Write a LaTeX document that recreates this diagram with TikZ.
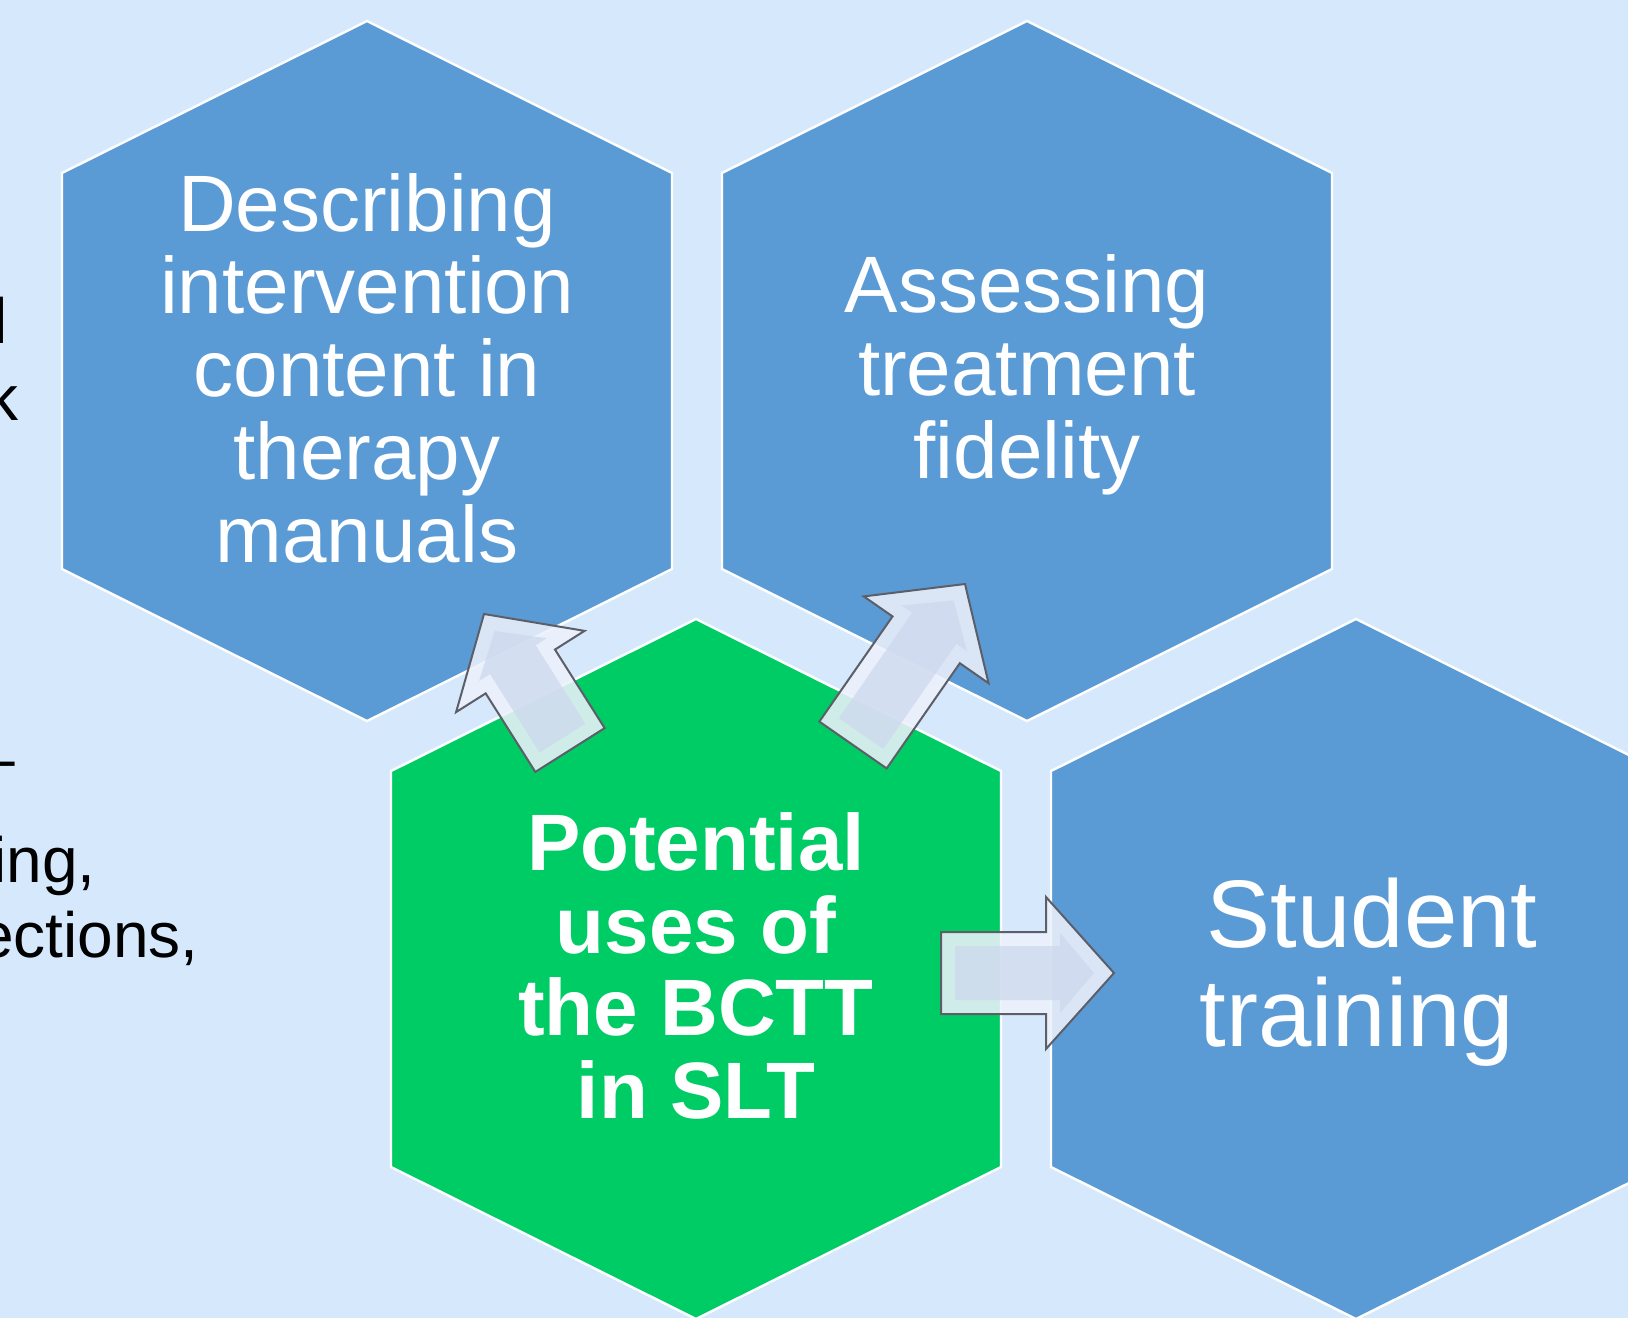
\documentclass[tikz,border=0pt]{standalone}
\usepackage{fontspec}
\setmainfont{Liberation Sans}
\usetikzlibrary{calc}
\definecolor{bctbg}{RGB}{214,233,252}
\definecolor{bctblue}{RGB}{91,155,213}
\definecolor{bctgreen}{RGB}{0,204,102}
\definecolor{bctrim}{RGB}{236,241,251}
\definecolor{bctface}{RGB}{206,216,238}
\definecolor{bctedge}{RGB}{92,94,104}

\tikzset{
  hexcell/.style={draw=white, line width=1.2pt, line join=miter},
  celltext/.style={text=white, align=center, inner sep=0pt,
    font=\fontsize{40}{41.35}\selectfont},
  sidetext/.style={text=black, inner sep=0pt, anchor=base east,
    font=\fontsize{32}{38}\selectfont},
  arrowrim/.style={fill=bctrim, fill opacity=0.88, draw=bctedge,
    draw opacity=1, line width=1pt, line join=miter},
  arrowface/.style={fill=bctface, fill opacity=0.75},
}

% bevelled block arrow from #1 (tail) to #2 (tip)
\newcommand{\bevelarrow}[2]{%
  \coordinate (ba-neck) at ($(#2)!34pt!(#1)$);
  \filldraw[arrowrim] ($(#1)!20.5pt!90:(#2)$) -- ($(ba-neck)!20.5pt!90:(#2)$)
    -- ($(ba-neck)!38pt!90:(#2)$) -- (#2) -- ($(ba-neck)!38pt!-90:(#2)$)
    -- ($(ba-neck)!20.5pt!-90:(#2)$) -- ($(#1)!20.5pt!-90:(#2)$) -- cycle;
  \coordinate (ba-tail) at ($(#1)!7pt!(#2)$);
  \coordinate (ba-tip) at ($(#2)!10pt!(#1)$);
  \coordinate (ba-ineck) at ($(ba-neck)!7pt!(#2)$);
  \fill[arrowface] ($(ba-tail)!13.5pt!90:(#2)$) -- ($(ba-ineck)!13.5pt!90:(#2)$)
    -- ($(ba-ineck)!20pt!90:(#2)$) -- (ba-tip) -- ($(ba-ineck)!20pt!-90:(#2)$)
    -- ($(ba-ineck)!13.5pt!-90:(#2)$) -- ($(ba-tail)!13.5pt!-90:(#2)$) -- cycle;
}

\begin{document}
\begin{tikzpicture}[x=0.5pt, y=-0.5pt]
  \useasboundingbox (0,0) rectangle (1628,1318);
  \clip (0,0) rectangle (1628,1318);
  \fill[bctbg] (0,0) rectangle (1628,1318);

  % text running in from the left, mostly hidden
  \node[sidetext] (frag1) at (8,343) {l};
  \node[sidetext] (frag2) at (19,420) {k};
  \node[sidetext] (frag3) at (15,780) {\textendash};
  \node[sidetext] (frag4) at (96,882) {ing,};
  \node[sidetext] (frag5) at (199,957) {ections,};

  % honeycomb cells
  \foreach \cx/\cy/\col in {367/371/bctblue, 1027/371/bctblue,
      696/969/bctgreen, 1356/969/bctblue}{
    \filldraw[hexcell, fill=\col] (\cx,\cy) +(0,-350) -- +(305,-198)
      -- +(305,198) -- +(0,350) -- +(-305,198) -- +(-305,-198) -- cycle;
  }

  \node[celltext] (manuals) at (367,368)
    {Describing\\intervention\\content in\\therapy\\manuals};
  \node[celltext] (fidelity) at (1027,375) {Assessing\\treatment\\fidelity};
  \node[celltext, font=\bfseries\fontsize{40}{41.3}\selectfont] (core) at (696,966)
    {Potential\\uses of\\the BCTT\\in SLT};
  \node[celltext, font=\fontsize{48}{49.7}\selectfont] (training) at (1357,972)
    {\hspace*{15pt}Student\\training};

  % arrows out of the centre cell
  \coordinate (lt-tail) at (570,750);
  \coordinate (lt-tip) at (484,614);
  \coordinate (rt-tail) at (853,745);
  \coordinate (rt-tip) at (965,584);
  \coordinate (st-tail) at (941,973);
  \coordinate (st-tip) at (1114,973);
  \bevelarrow{lt-tail}{lt-tip}
  \bevelarrow{rt-tail}{rt-tip}
  \bevelarrow{st-tail}{st-tip}
\end{tikzpicture}
\end{document}
